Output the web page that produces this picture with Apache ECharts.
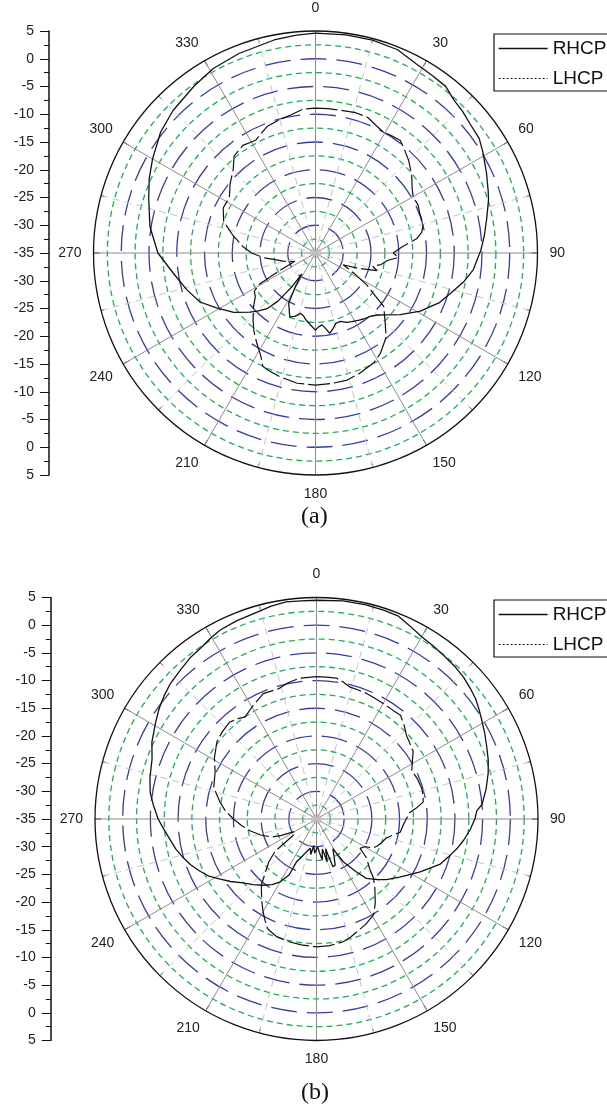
<!DOCTYPE html>
<html>
<head>
<meta charset="utf-8">
<script src="https://cdn.jsdelivr.net/npm/echarts@6/dist/echarts.min.js"></script>
<style>
html,body{margin:0;padding:0;background:#ffffff;}
#c{width:607px;height:1112px;}
</style>
</head>
<body>
<div id="c"></div>
<script>
// ---- tick labels / names ----
const angleTickLabels = ['0','30','60','90','120','150','180','210','240','270','300','330'];
const radialTickLabels = ['5','0','-5','-10','-15','-20','-25','-30','-35','-30','-25','-20','-15','-10','-5','0','5'];
const legendNames = ['RHCP','LHCP'];
const captions = ['(a)','(b)'];

// ---- data: [angle (deg), gain (dB)] ----
const rhcpA = [[0,4.6],[8,4.7],[15,4.7],[22,4.5],[28,3.6],[33,3.3],[38,3.1],[42,2.2],[46,1.8],[50,1.3],[55,1.0],[59,0.2],[65,-1.0],[70,-1.9],[73,-2.4],[79,-3.6],[84,-4.4],[89,-5.2],[96,-6.4],[101,-7.8],[107,-9.7],[112,-11.0],[114,-11.8],[119,-13.4],[126,-16.1],[131,-18.0],[135,-19.2],[139,-19.9],[144,-20.3],[147,-20.6],[152,-21.0],[156,-21.3],[160,-21.9],[164,-21.8],[167,-21.0],[170,-20.3],[173,-21.5],[175,-22.0],[178,-21.6],[180,-21.1],[184,-22.0],[188,-22.8],[191,-23.5],[194,-23.8],[198,-23.0],[202,-22.6],[205,-23.8],[208,-24.7],[211,-28.0],[213,-30.5],[215,-27.5],[218,-24.0],[221,-21.7],[225,-20.2],[228,-19.1],[234,-16.8],[241,-14.6],[247,-12.4],[254,-10.9],[262,-9.1],[270,-6.6],[279,-4.8],[288,-3.4],[294,-2.2],[300,-1.1],[308,0.4],[315,1.3],[324,2.2],[331,3.0],[339,3.5],[349,4.1],[355,4.4],[360,4.6]];
const lhcpA = [[0,-8.9],[5,-8.9],[10,-8.9],[16,-8.7],[21,-8.8],[25,-9.5],[29,-10.0],[33,-9.8],[37,-9.6],[41,-10.5],[45,-11.3],[51,-12.7],[56,-14.0],[60,-14.7],[65,-14.6],[69,-14.9],[75,-14.9],[79,-15.5],[82,-16.6],[86,-19.4],[90,-21.0],[93,-20.0],[96,-22.0],[100,-23.0],[103,-24.4],[106,-23.5],[110,-27.0],[113,-29.6],[118,-27.0],[122,-24.0],[125,-22.3],[128,-19.4],[134,-17.6],[140,-15.2],[147,-13.5],[152,-12.6],[160,-11.9],[166,-11.4],[173,-11.3],[180,-11.2],[188,-11.3],[196,-11.8],[202,-12.2],[205,-12.5],[208,-14.0],[213,-15.6],[218,-17.0],[223,-18.5],[229,-20.2],[234,-21.6],[238,-22.0],[241,-23.5],[244,-28.0],[248,-31.0],[252,-30.0],[256,-29.0],[260,-27.9],[265,-25.5],[270,-23.5],[275,-21.9],[282,-19.8],[289,-17.5],[296,-16.5],[303,-16.5],[309,-15.2],[315,-14.0],[320,-12.2],[326,-11.6],[332,-12.0],[339,-10.6],[344,-10.2],[350,-9.7],[355,-9.0],[360,-8.9]];
const rhcpB = [[0,4.5],[7,4.7],[13,4.7],[18,4.6],[22,4.5],[26,3.7],[30,3.0],[34,2.7],[38,2.4],[42,2.2],[46,1.9],[50,1.4],[53,1.0],[56,0.4],[59,-0.2],[63,-0.9],[67,-1.6],[71,-2.2],[75,-2.9],[80,-3.9],[85,-5.0],[87,-6.0],[90,-6.4],[94,-7.2],[98,-8.1],[102,-9.1],[106,-10.2],[110,-11.2],[113,-12.5],[117,-14.0],[122,-15.8],[125,-16.7],[131,-18.3],[135,-19.5],[140,-21.0],[143,-23.0],[148,-25.9],[151,-28.9],[155,-27.5],[158,-26.0],[161,-25.9],[163,-29.4],[166,-27.0],[169,-29.5],[172,-27.5],[174,-28.5],[178,-30.0],[183,-28.8],[186,-30.2],[189,-28.5],[192,-29.6],[197,-28.8],[201,-27.8],[205,-26.5],[206,-23.8],[210,-21.9],[214,-20.7],[219,-19.6],[224,-18.5],[229,-17.4],[234,-15.8],[238,-14.5],[242,-13.0],[246,-11.9],[250,-10.8],[254,-9.9],[258,-9.0],[262,-8.3],[266,-7.4],[270,-6.4],[275,-5.4],[279,-4.6],[284,-4.0],[290,-3.4],[295,-2.2],[301,-1.1],[305,-0.3],[309,0.4],[313,1.0],[318,1.5],[322,2.0],[326,2.3],[330,2.9],[333,3.3],[338,3.6],[343,3.8],[348,4.3],[352,4.6],[356,4.5],[360,4.5]];
const lhcpB = [[0,-9.3],[4,-9.3],[8,-9.3],[11,-9.8],[14,-10.4],[18,-10.5],[22,-10.6],[26,-10.8],[30,-10.9],[35,-11.0],[39,-10.9],[43,-11.8],[47,-12.8],[51,-13.3],[55,-13.7],[59,-14.8],[63,-15.7],[68,-15.4],[74,-15.2],[78,-15.3],[81,-15.5],[84,-17.0],[86,-18.1],[90,-18.8],[94,-19.3],[99,-19.7],[105,-21.9],[110,-22.5],[114,-23.0],[117,-23.5],[120,-25.0],[124,-25.5],[128,-23.5],[133,-21.9],[136,-20.2],[140,-18.6],[145,-16.5],[149,-14.9],[155,-14.0],[160,-13.4],[164,-12.8],[168,-12.3],[174,-12.0],[180,-11.9],[187,-12.1],[193,-12.3],[199,-12.6],[204,-13.3],[207,-14.5],[210,-15.7],[214,-17.3],[220,-19.5],[223,-21.3],[228,-23.4],[232,-25.5],[235,-29.9],[240,-30.5],[245,-28.0],[248,-26.3],[254,-24.5],[260,-22.8],[265,-21.4],[270,-20.0],[275,-18.5],[280,-17.3],[287,-15.6],[295,-14.8],[301,-13.5],[308,-12.2],[313,-11.8],[318,-11.5],[322,-12.0],[325,-12.5],[331,-11.5],[337,-10.4],[344,-10.5],[348,-9.9],[353,-9.4],[360,-9.3]];

// ---- layout / style ----
const FONT = '"Liberation Sans", Arial, sans-serif';
const SERIF = '"Liberation Serif", "Times New Roman", serif';
const BLUE = '#3a3aa2';
const GREEN = '#1fae55';
const INK = '#111111';
const panels = [
  {cx:315.5, cy:253, r:222, axisX:49, legendTop:34, captionTop:505},
  {cx:316.5, cy:819, r:221.5, axisX:50.7, legendTop:600, captionTop:1081}
];

const toPolar = arr => arr.map(p => [p[1], p[0]]);
const T = 'rgba(0,0,0,0)';

const option = {
  backgroundColor:'#ffffff',
  animation:false,
  polar: panels.map(p => ({center:[p.cx, p.cy], radius:p.r})),
  angleAxis: panels.map((p,i) => ({
    polarIndex:i, type:'value', min:0, max:360, interval:30, startAngle:90, clockwise:true,
    axisLine:{show:true, lineStyle:{color:INK, width:1.3}},
    axisTick:{show:true, inside:true, length:6, lineStyle:{color:INK, width:1}},
    minorTick:{show:true, splitNumber:2, length:4, lineStyle:{color:INK, width:1}},
    axisLabel:{show:true, margin:12, color:'#222', fontSize:14, fontFamily:FONT,
      formatter: v => (v >= 360 ? '' : (v === 0 ? '{top|0}' : angleTickLabels[Math.round(v/30)])),
      rich:{top:{fontSize:14, fontFamily:FONT, color:'#222', padding:[0,0,4,0]}}},
    splitLine:{show:true, lineStyle:{color:'#8c8c8c', width:1}},
    minorSplitLine:{show:true, lineStyle:{color:'#c4c4c4', width:1, type:[7,5]}}
  })),
  radiusAxis: panels.map((p,i) => ({
    polarIndex:i, type:'value', min:-35, max:5, interval:5,
    axisLine:{show:false}, axisTick:{show:false}, axisLabel:{show:false},
    minorTick:{show:false, splitNumber:2},
    splitLine:{show:true, lineStyle:{color:[T,BLUE,BLUE,BLUE,BLUE,BLUE,BLUE,BLUE,T], width:1.3, type:[26,10]}},
    minorSplitLine:{show:true, lineStyle:{color:GREEN, width:1.3, type:[6,4]}}
  })),
  grid: panels.map(p => ({left:p.axisX, top:p.cy - p.r, width:10, height:2*p.r, show:false})),
  xAxis: panels.map((p,i) => ({gridIndex:i, type:'value', show:false, min:0, max:1})),
  yAxis: panels.map((p,i) => ({
    gridIndex:i, type:'value', min:0, max:80, interval:5, inverse:true, position:'left',
    axisLine:{show:true, lineStyle:{color:INK, width:1.5}},
    axisTick:{show:true, inside:false, length:9, lineStyle:{color:INK, width:1}},
    minorTick:{show:true, splitNumber:2, length:5, lineStyle:{color:INK, width:1}},
    splitLine:{show:false},
    axisLabel:{show:true, margin:15, color:'#222', fontSize:14, fontFamily:FONT,
      formatter: v => radialTickLabels[Math.round(v/5)]}
  })),
  legend: panels.map(p => ({
    orient:'vertical', left:494, top:p.legendTop,
    backgroundColor:'#ffffff', borderColor:INK, borderWidth:1.2, borderRadius:0,
    padding:[5,40,3,4], itemGap:11, itemWidth:49, itemHeight:18,
    selectedMode:false,
    itemStyle:{opacity:0},
    textStyle:{color:INK, fontSize:19, fontFamily:FONT, lineHeight:18},
    data:[
      {name:legendNames[0], lineStyle:{color:INK, width:1.3, type:'solid'}},
      {name:legendNames[1], lineStyle:{color:INK, width:1.1, type:[2,2]}}
    ]
  })),
  title: panels.map((p,i) => ({
    text:captions[i], left:301, top:p.captionTop, padding:0,
    textStyle:{fontFamily:SERIF, fontSize:24, fontWeight:'normal', color:INK}
  })),
  series: [
    {name:legendNames[0], type:'line', coordinateSystem:'polar', polarIndex:0, data:toPolar(rhcpA), symbol:'none', silent:true, z:5, lineStyle:{color:INK, width:1.3}},
    {name:legendNames[1], type:'line', coordinateSystem:'polar', polarIndex:0, data:toPolar(lhcpA), symbol:'none', silent:true, z:5, lineStyle:{color:INK, width:1.2, type:[22,4]}},
    {name:legendNames[0], type:'line', coordinateSystem:'polar', polarIndex:1, data:toPolar(rhcpB), symbol:'none', silent:true, z:5, lineStyle:{color:INK, width:1.3}},
    {name:legendNames[1], type:'line', coordinateSystem:'polar', polarIndex:1, data:toPolar(lhcpB), symbol:'none', silent:true, z:5, lineStyle:{color:INK, width:1.2, type:[22,4]}}
  ]
};

const chart = echarts.init(document.getElementById('c'), null, {renderer:'canvas'});
chart.setOption(option);
</script>
</body>
</html>
